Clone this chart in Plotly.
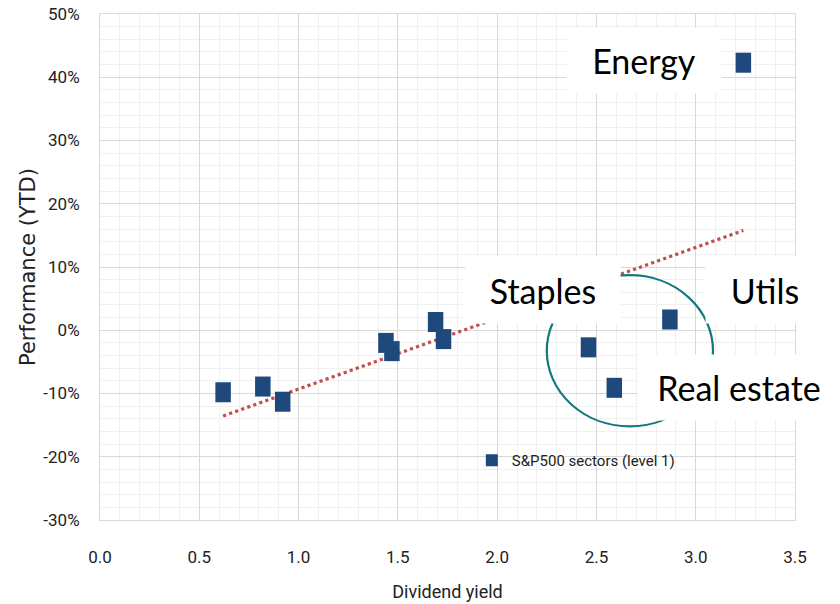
import numpy as np
import plotly.graph_objects as go

# Data
dividend_yield = [0.62, 0.82, 0.92, 1.44, 1.47, 1.69, 1.73, 2.46, 2.59, 2.87, 3.24]
performance_ytd = [-9.8, -8.9, -11.3, -2.0, -3.3, 1.3, -1.4, -2.7, -9.1, 1.7, 42.3]
series_name = "S&P500 sectors (level 1)"
label_texts = ["Energy", "Staples", "Utils", "Real estate"]
x_ticks = [0.0, 0.5, 1.0, 1.5, 2.0, 2.5, 3.0, 3.5]
y_ticks = [-30, -20, -10, 0, 10, 20, 30, 40, 50]
y_tick_text = [f"{v}%" for v in y_ticks]

# Linear trend line (least squares fit over the data)
slope, intercept = np.polyfit(dividend_yield, performance_ytd, 1)
trend_x = [min(dividend_yield), max(dividend_yield)]
trend_y = [slope * v + intercept for v in trend_x]

NAVY = "#1F497D"
TICKFONT = "Roboto, sans-serif"
LABEL_FONT = "Lato, Carlito, Calibri, sans-serif"

fig = go.Figure()
fig.add_trace(go.Scatter(
    x=trend_x, y=trend_y, mode="lines", showlegend=False, hoverinfo="skip",
    line=dict(color="#C0504D", width=3.2, dash="dot"),
))
fig.add_trace(go.Scatter(
    x=dividend_yield, y=performance_ytd, mode="markers", name=series_name,
    showlegend=False,
    marker=dict(symbol="line-ns", size=14.3, color=NAVY, line=dict(width=15.5, color=NAVY)),
))
# legend entry (filled square swatch)
fig.add_trace(go.Scatter(
    x=[None], y=[None], mode="markers", name=series_name, showlegend=True,
    marker=dict(symbol="square", size=12, color=NAVY),
))

# Circle around the defensive sectors
fig.add_shape(type="circle", xref="x", yref="y", x0=2.25, x1=3.087, y0=-15.2, y1=8.7,
              line=dict(color="#12797F", width=2.2), layer="above")

# Labels in white boxes (paper coords)
label_pos = [(0.7827, 0.9081, 154, 65), (0.6374, 0.4545, 154, 66),
             (0.9568, 0.4545, 118, 66), (0.9194, 0.2619, 202, 65)]
for txt, (px, py, w, h) in zip(label_texts, label_pos):
    fig.add_annotation(x=px, y=py, xref="paper", yref="paper", text=txt, showarrow=False,
                       xanchor="center", yanchor="middle", width=w, height=h,
                       bgcolor="white", borderpad=0,
                       font=dict(family=LABEL_FONT, size=34, color="black"))

fig.update_layout(
    width=840, height=604,
    margin=dict(l=100, r=45, t=14, b=84),
    paper_bgcolor="white", plot_bgcolor="white",
    showlegend=True,
    legend=dict(x=0.535, y=0.15, xanchor="left", yanchor="top", bgcolor="rgba(0,0,0,0)",
                font=dict(family=TICKFONT, size=15, color="#222"),
                itemwidth=30, tracegroupgap=0),
    xaxis=dict(range=[0, 3.5], tickvals=x_ticks, tickformat=".1f", automargin=False,
               showgrid=True, gridcolor="#D9D9D9", gridwidth=1,
               minor=dict(dtick=0.1, showgrid=True, gridcolor="#F0F0F0", gridwidth=1),
               zeroline=False, showline=True, linecolor="#D9D9D9", mirror=True,
               ticks="", ticklabelstandoff=22,
               tickfont=dict(family=TICKFONT, size=17, color="#222"),
               title=dict(text="Dividend yield", standoff=18,
                          font=dict(family=TICKFONT, size=18, color="#222"))),
    yaxis=dict(range=[-30, 50], tickvals=y_ticks, ticktext=y_tick_text, automargin=False,
               showgrid=True, gridcolor="#D9D9D9", gridwidth=1,
               minor=dict(dtick=2, showgrid=True, gridcolor="#F0F0F0", gridwidth=1),
               zeroline=False, showline=True, linecolor="#D9D9D9", mirror=True,
               ticks="", ticklabelstandoff=16,
               tickfont=dict(family=TICKFONT, size=17, color="#222"),
               title=dict(text="Performance (YTD)", standoff=1,
                          font=dict(family="DejaVu Sans, Verdana, sans-serif", size=21, color="#222"))),
)

fig.write_html(
    "out.html",
    config={"displayModeBar": False},
    post_script="document.documentElement.style.margin='0';document.body.style.margin='0';document.body.style.padding='0';",
)
